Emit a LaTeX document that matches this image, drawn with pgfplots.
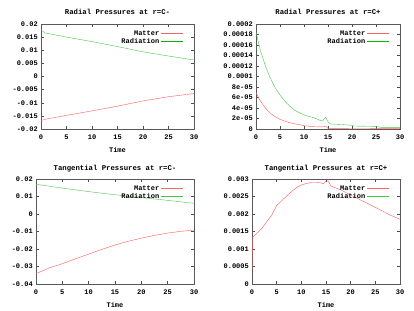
\documentclass[border=0pt]{standalone}
\usepackage{fontspec}
\setmonofont{Liberation Mono}
\usepackage{pgfplots}
\pgfplotsset{compat=1.18}
\definecolor{matc}{RGB}{255,90,90}
\definecolor{radc}{RGB}{70,200,70}
\definecolor{matl}{RGB}{255,100,100}
\definecolor{radl}{RGB}{0,185,0}
\pgfplotsset{
  gp/.style={
    scale only axis,
    height=105pt,
    xmin=0,xmax=30,
    xtick={0,5,10,15,20,25,30},
    font=\ttfamily\bfseries\fontsize{7}{8}\selectfont,
    /pgf/number format/assume math mode=true,
    axis line style={black!65},
    tick style={black!70,thin},
    major tick length=3pt,
    scaled y ticks=false,
    every axis title shift=0pt,
    title style={at={(0.5,1)},anchor=base,yshift=9pt,font=\ttfamily\bfseries\fontsize{7.3}{8}\selectfont},
    xlabel={Time},
    xlabel style={at={(0.5,0)},anchor=base,yshift=-23.5pt},
    xticklabel style={anchor=base,yshift=-10.5pt},
    yticklabel style={inner sep=0pt,xshift=-3pt},
    legend plot pos=right,
    legend cell align=right,
    legend style={draw=none,fill=none,at={(1,1)},anchor=north east,xshift=-9.5pt,yshift=-3.15pt,
      font=\ttfamily\bfseries\fontsize{7}{8}\selectfont,row sep=-2.5pt,inner sep=1pt},
    legend image code/.code={\fill[#1] (0pt,-0.55pt) rectangle (22pt,0.55pt);},
  },
}
\begin{document}
\begin{tikzpicture}
\useasboundingbox (0pt,0pt) rectangle (414pt,310pt);
% Top-left
\begin{axis}[gp, width=153pt, at={(41pt,181pt)}, anchor=south west,
  title={Radial Pressures at r=C-},
  ymin=-0.02,ymax=0.02,
  ytick={-0.02,-0.015,-0.01,-0.005,0,0.005,0.01,0.015,0.02},
  yticklabels={-0.02,-0.015,-0.01,-0.005,0,0.005,0.01,0.015,0.02}]
\addlegendimage{color=matl,draw=none}
\addlegendentry{Matter}
\addlegendimage{color=radl,draw=none}
\addlegendentry{Radiation}
\addplot[matc,thin,forget plot] coordinates {(0,-0.0168) (0.8,-0.0163) (5,-0.0148) (10,-0.0131) (15,-0.0113) (20,-0.0093) (25,-0.0077) (30,-0.0065)};
\addplot[radc,thin,forget plot] coordinates {(0,0.0174) (0.3,0.0173) (0.8,0.0166) (5,0.0150) (10,0.0133) (15,0.0114) (20,0.0094) (25,0.0078) (30,0.0063)};
\end{axis}
% Top-right
\begin{axis}[gp, width=144pt, at={(256pt,181pt)}, anchor=south west,
  title={Radial Pressures at r=C+},
  ymin=0,ymax=0.0002,
  ytick={0,0.00002,0.00004,0.00006,0.00008,0.0001,0.00012,0.00014,0.00016,0.00018,0.0002},
  yticklabels={0,2e-05,4e-05,6e-05,8e-05,0.0001,0.00012,0.00014,0.00016,0.00018,0.0002}]
\addlegendimage{color=matl,draw=none}
\addlegendentry{Matter}
\addlegendimage{color=radl,draw=none}
\addlegendentry{Radiation}
\addplot[matc,thin,forget plot] coordinates {(0,0.0000692) (0.5,0.0000600) (1,0.0000521) (2,0.0000394) (3,0.0000298) (4,0.0000235) (5,0.0000184) (6,0.0000150) (7,0.0000121) (8,0.0000100) (9,0.0000083) (10,0.0000063) (12,0.0000044) (13.5,0.0000040) (14.1,0.0000042) (14.5,0.0000057) (15,0.0000013) (20,0.0000010) (25,0.0000008) (30,0.0000006)};
\addplot[radc,thin,forget plot] coordinates {(0,0.000185) (0.5,0.000165) (1,0.000147) (2,0.000119) (3,0.0000965) (4,0.0000787) (5,0.0000648) (6,0.0000533) (7,0.0000438) (8,0.0000362) (9,0.0000311) (10,0.0000267) (11,0.0000240) (12,0.0000216) (13.5,0.0000159) (14,0.0000170) (14.5,0.0000222) (15,0.0000140) (15.5,0.0000095) (18,0.0000085) (20,0.0000070) (20.5,0.0000057) (25,0.0000050) (26,0.0000032) (30,0.0000030)};
\end{axis}
% Bottom-left
\begin{axis}[gp, width=158pt, at={(36pt,26pt)}, anchor=south west,
  title={Tangential Pressures at r=C-},
  ymin=-0.04,ymax=0.02,
  ytick={-0.04,-0.03,-0.02,-0.01,0,0.01,0.02},
  yticklabels={-0.04,-0.03,-0.02,-0.01,0,0.01,0.02}]
\addlegendimage{color=matl,draw=none}
\addlegendentry{Matter}
\addlegendimage{color=radc,draw=none}
\addlegendentry{Radiation}
\addplot[matc,thin,forget plot] coordinates {(0,-0.0341) (1,-0.0328) (2.5,-0.0308) (5,-0.0284) (7.5,-0.0256) (10,-0.0229) (12.5,-0.0202) (15,-0.0177) (17.5,-0.0156) (20,-0.0138) (22.5,-0.0122) (25,-0.0109) (27.5,-0.0099) (30,-0.0092)};
\addplot[radc,thin,forget plot] coordinates {(0,0.0170) (5,0.0148) (10,0.0128) (15,0.0110) (20,0.0094) (25,0.0078) (30,0.0061)};
\end{axis}
% Bottom-right
\begin{axis}[gp, width=148pt, at={(252pt,26pt)}, anchor=south west,
  title={Tangential Pressures at r=C+},
  ymin=0,ymax=0.003,
  ytick={0,0.0005,0.001,0.0015,0.002,0.0025,0.003},
  yticklabels={0,0.0005,0.001,0.0015,0.002,0.0025,0.003}]
\addlegendimage{color=matl,draw=none}
\addlegendentry{Matter}
\addlegendimage{color=radc,draw=none}
\addlegendentry{Radiation}
\addplot[matc,thin,forget plot] coordinates {(0,0.00040) (0.08,0.0011) (0.2,0.00135) (1,0.00145) (2,0.00159) (3,0.00178) (4,0.00197) (5,0.00224) (6,0.00238) (7,0.00251) (8,0.00264) (9,0.00275) (10,0.00283) (11,0.00287) (12,0.00290) (13,0.00290) (14,0.00289) (14.5,0.00286) (15,0.00295) (15.5,0.00293) (16,0.00280) (18,0.00269) (20,0.00254) (22,0.00240) (25,0.00219) (28,0.00197) (30,0.00185)};
\end{axis}
\end{tikzpicture}
\end{document}
